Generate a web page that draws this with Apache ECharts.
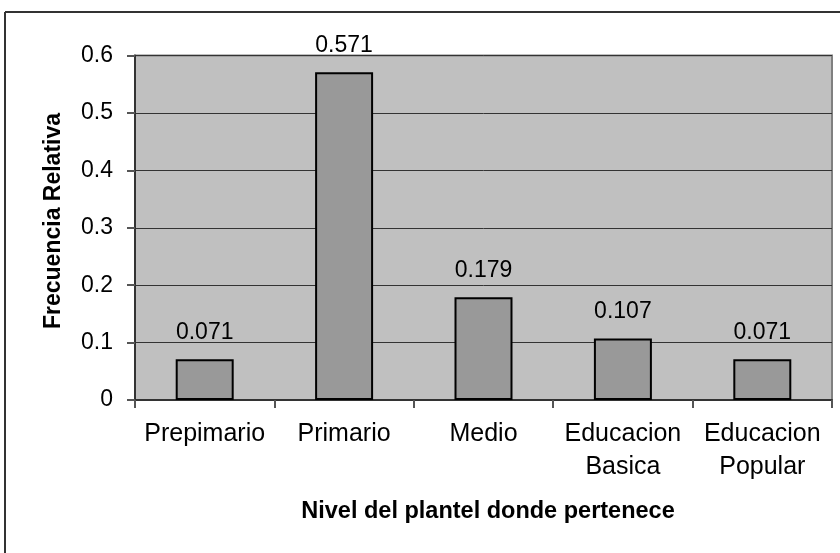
<!DOCTYPE html>
<html><head><meta charset="utf-8">
<script src="https://cdn.jsdelivr.net/npm/echarts@6/dist/echarts.min.js"></script>
<style>html,body{margin:0;padding:0;background:#fff}#c{width:840px;height:553px}</style>
</head><body><div id="c"></div>
<script>
var categories = ['Prepimario', 'Primario', 'Medio', 'Educacion\nBasica', 'Educacion\nPopular'];
var values = [0.071, 0.571, 0.179, 0.107, 0.071];
var yTicks = [0, 0.1, 0.2, 0.3, 0.4, 0.5, 0.6];
var xTitle = 'Nivel del plantel donde pertenece';
var yTitle = 'Frecuencia Relativa';

var chart = echarts.init(document.getElementById('c'), null, {renderer: 'canvas'});
var F = 'Liberation Sans, Arial, sans-serif';
chart.setOption({
  animation: false,
  backgroundColor: '#fff',
  grid: {left: 135, right: 8, top: 55.5, bottom: 153, show: true, backgroundColor: '#c0c0c0', borderColor: '#808080', borderWidth: 2},
  graphic: [
    {type: 'line', shape: {x1: 5, y1: 12, x2: 840, y2: 12}, style: {stroke: '#333', lineWidth: 2}},
    {type: 'line', shape: {x1: 5, y1: 12, x2: 5, y2: 553}, style: {stroke: '#333', lineWidth: 2}},
    {type: 'text', x: 488, y: 512, style: {text: xTitle, font: 'bold 23.5px ' + F, fill: '#000', textAlign: 'center', textVerticalAlign: 'middle'}},
    {type: 'text', x: 54, y: 221, rotation: Math.PI / 2, style: {text: yTitle, font: 'bold 23px ' + F, fill: '#000', textAlign: 'center', textVerticalAlign: 'middle'}}
  ],
  xAxis: {
    type: 'category', data: categories,
    axisLine: {lineStyle: {color: '#333', width: 2}},
    axisTick: {show: true, length: 8, lineStyle: {color: '#555', width: 2}},
    axisLabel: {color: '#000', fontFamily: F, fontSize: 25, margin: 18, lineHeight: 33, interval: 0}
  },
  yAxis: {
    type: 'value', min: 0, max: 0.6, interval: 0.1,
    axisLine: {show: true, lineStyle: {color: '#333', width: 2}},
    axisTick: {show: true, length: 8, lineStyle: {color: '#555', width: 2}},
    axisLabel: {color: '#000', fontFamily: F, fontSize: 23, margin: 22,
      formatter: function (v) { var t = yTicks.find(function (k) { return Math.abs(k - v) < 1e-9; }); return t === undefined ? '' : String(t); }},
    splitLine: {show: true, lineStyle: {color: '#333', width: 1}}
  },
  series: [{
    type: 'bar', data: values, barWidth: '41.6%',
    itemStyle: {color: '#999999', borderColor: '#000', borderWidth: 2},
    label: {show: true, position: 'top', distance: 15, color: '#000', fontFamily: F, fontSize: 23,
      formatter: function (p) { return p.value.toFixed(3); }}
  }]
});
</script></body></html>
